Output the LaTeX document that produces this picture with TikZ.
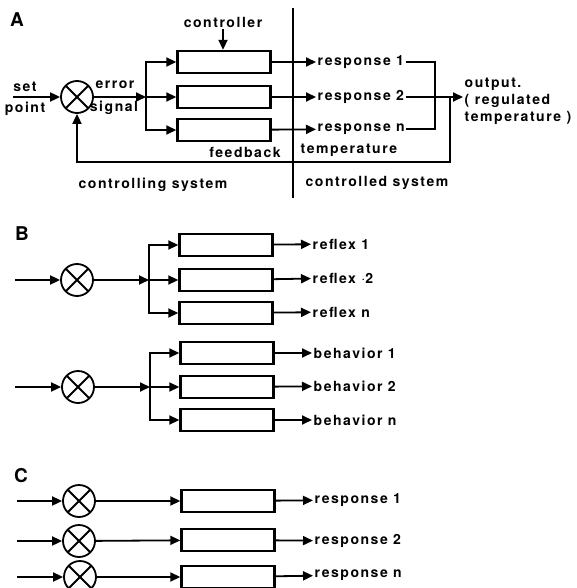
\documentclass[tikz,border=0pt]{standalone}
\usepackage{fontspec}
\setmainfont{TeX Gyre Heros}[LetterSpace=11]
\usetikzlibrary{arrows.meta,positioning}
\tikzset{
  flow/.style={-{Triangle[length=10pt,width=9pt]}, line width=1.8pt},
  wire/.style={line width=1.8pt},
  block/.style={draw, line width=2.4pt, minimum width=93pt, minimum height=22pt, inner sep=0pt},
  sum node/.style={draw, circle, line width=1.8pt, minimum size=32pt, inner sep=0pt,
    path picture={\draw[line width=1.8pt]
      (path picture bounding box.north west) -- (path picture bounding box.south east)
      (path picture bounding box.north east) -- (path picture bounding box.south west);}},
  lbl/.style={font=\bfseries\fontsize{14}{17}\selectfont, inner sep=1.5pt},
  panel label/.style={font=\bfseries\fontsize{19}{19}\selectfont, inner sep=0pt},
}

\begin{document}
\begin{tikzpicture}[x=1pt,y=-1pt]
  \useasboundingbox (0,0) rectangle (577,588);
  % A: the loop with controller and feedback
  \node[panel label] (labA) at (17,20) {A};
  \node[sum node] (sumA) at (77,97) {};
  \coordinate (inA) at (13,97);
  \coordinate (brA) at (146,97);
  \node[block] (boxA1) at (224,62) {};
  \node[block] (boxA2) at (224,97) {};
  \node[block] (boxA3) at (224,130) {};
  \node[lbl] (ctrlA) at (223,22) {controller};
  \node[lbl] (setA) at (25,87) {set};
  \node[lbl] (pointA) at (25,109) {point};
  \node[lbl] (errA) at (115,85) {error};
  \node[lbl] (sigA) at (114,108) {signal};
  \node[lbl, anchor=west] (respA1) at (316,62) {response 1};
  \node[lbl, anchor=west] (respA2) at (316,97) {response 2};
  \node[lbl, anchor=west] (respAn) at (316,129) {response n};
  \node[lbl, anchor=west, align=left] (outA) at (463,101) {output.\\( regulated\\temperature )};
  \node[lbl] (fbkA) at (245,152) {feedback};
  \node[lbl, anchor=west] (tempA) at (299,150) {temperature};
  \node[lbl] (csysA) at (153,185) {controlling system};
  \node[lbl] (dsysA) at (377,183) {controlled system};
  \coordinate (joinA) at (435,97);
  \coordinate (fbA) at (450,97);
  \coordinate (divTop) at (293,8);
  \coordinate (divBot) at (293,198);

  \draw[flow] (inA) -- (sumA);
  \draw[flow] (sumA) -- (brA);
  \draw[flow] (brA) |- (boxA1.west);
  \draw[flow] (brA) -- (boxA2.west);
  \draw[flow] (brA) |- (boxA3.west);
  \draw[flow] (ctrlA.south) -- (ctrlA.south |- boxA1.north);
  \draw[flow] (boxA1) -- (respA1);
  \draw[flow] (boxA2) -- (respA2);
  \draw[flow] (boxA3) -- (respAn);
  \draw[wire] (respA1) -| (joinA) |- (respAn);
  \draw[flow] (respA2) -- (outA.west |- respA2);
  \draw[flow] (fbA) -- ++(0,65) -| (sumA);
  \draw[wire] (divTop) -- (divBot);

  % B: reflexes and behaviors, two separate loops
  \node[panel label] (labB) at (22,234) {B};
  \node[sum node] (sumB1) at (77,280) {};
  \coordinate (inB1) at (15,280);
  \coordinate (brB1) at (149,280);
  \node[block] (boxB1) at (226,245) {};
  \node[block] (boxB2) at (226,280) {};
  \node[block] (boxB3) at (226,313) {};
  \node[lbl, anchor=west] (refB1) at (311,244) {reflex 1};
  \node[lbl, anchor=west] (refB2) at (311,278) {reflex $\cdot$2};
  \node[lbl, anchor=west] (refBn) at (311,312) {reflex n};

  \node[sum node] (sumB2) at (78,387) {};
  \coordinate (inB2) at (15,387);
  \coordinate (brB2) at (150,387);
  \node[block] (boxB4) at (227,353) {};
  \node[block] (boxB5) at (227,387) {};
  \node[block] (boxB6) at (227,420) {};
  \node[lbl, anchor=west] (behB1) at (312,353) {behavior 1};
  \node[lbl, anchor=west] (behB2) at (312,386) {behavior 2};
  \node[lbl, anchor=west] (behBn) at (312,420) {behavior n};

  \draw[flow] (inB1) -- (sumB1);
  \draw[flow] (sumB1) -- (brB1);
  \draw[flow] (brB1) |- (boxB1.west);
  \draw[flow] (brB1) -- (boxB2.west);
  \draw[flow] (brB1) |- (boxB3.west);
  \draw[flow] (boxB1) -- (refB1);
  \draw[flow] (boxB2) -- (refB2);
  \draw[flow] (boxB3) -- (refBn);
  \draw[flow] (inB2) -- (sumB2);
  \draw[flow] (sumB2) -- (brB2);
  \draw[flow] (brB2) |- (boxB4.west);
  \draw[flow] (brB2) -- (boxB5.west);
  \draw[flow] (brB2) |- (boxB6.west);
  \draw[flow] (boxB4) -- (behB1);
  \draw[flow] (boxB5) -- (behB2);
  \draw[flow] (boxB6) -- (behBn);

  % C: one loop per response
  \node[panel label] (labC) at (21,476) {C};
  \node[sum node] (sumC1) at (79,501) {};
  \node[sum node] (sumC2) at (79,541) {};
  \node[sum node] (sumC3) at (80,577) {};
  \coordinate (inC1) at (17,501);
  \coordinate (inC2) at (17,541);
  \coordinate (inC3) at (17,577);
  \node[block] (boxC1) at (228,501) {};
  \node[block] (boxC2) at (228,540) {};
  \node[block] (boxC3) at (228,577) {};
  \node[lbl, anchor=west] (respC1) at (313,500) {response 1};
  \node[lbl, anchor=west] (respC2) at (313,541) {response 2};
  \node[lbl, anchor=west] (respCn) at (313,575) {response n};

  \draw[flow] (inC1) -- (sumC1);
  \draw[flow] (inC2) -- (sumC2);
  \draw[flow] (inC3) -- (sumC3);
  \draw[flow] (sumC1) -- (boxC1);
  \draw[flow] (sumC2) -- (boxC2);
  \draw[flow] (sumC3) -- (boxC3);
  \draw[flow] (boxC1) -- (respC1);
  \draw[flow] (boxC2) -- (respC2);
  \draw[flow] (boxC3) -- (respCn);
\end{tikzpicture}
\end{document}
